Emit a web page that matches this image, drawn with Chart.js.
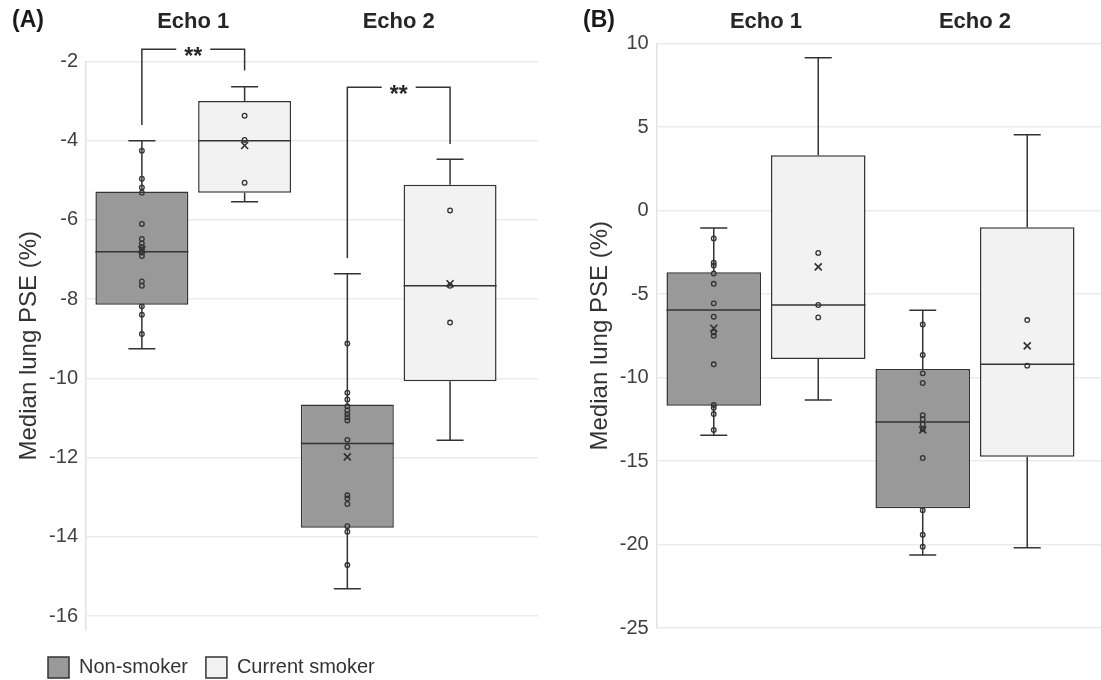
<!DOCTYPE html>
<html>
<head>
<meta charset="utf-8">
<script src="https://cdn.jsdelivr.net/npm/chart.js@4.4.1/dist/chart.umd.min.js"></script>
<style>
  html, body { margin: 0; padding: 0; background: #fff; overflow: hidden; }
  #wrap { position: relative; width: 1101px; height: 680px; }
  #panelA { position: absolute; left: 0; top: 0; }
  #panelB { position: absolute; left: 560px; top: 0; }
</style>
</head>
<body>
<div id="wrap">
  <canvas id="panelA" width="550" height="680"></canvas>
  <canvas id="panelB" width="541" height="680"></canvas>
</div>
<script>
// Median lung PSE box plots, non-smokers vs current smokers, two echo visits

const groups = ['Echo 1', 'Echo 2'];
const groupX = [0, 1];
const seriesNames = ['Non-smoker', 'Current smoker'];

// Panel A - five-number summaries per echo: [min, q1, median, q3, max]
const aNonBox = [[-9.25, -8.14, -6.80, -5.28, -4.00], [-15.31, -13.77, -11.64, -10.66, -7.36]];
const aSmkBox = [[-5.54, -5.31, -4.00, -3.00, -2.64], [-11.56, -10.07, -7.66, -5.11, -4.47]];
const aNonMean = [-6.75, -11.98];
const aSmkMean = [-4.12, -7.61];
const aNonPts = [
  [-4.25, -4.96, -5.18, -5.31, -6.10, -6.48, -6.59, -6.69, -6.75, -6.82, -6.91, -7.55, -7.66, -8.18, -8.39, -8.88],
  [-9.12, -10.36, -10.53, -10.70, -10.81, -10.90, -10.98, -11.06, -11.55, -11.73, -12.95, -13.03, -13.17, -13.73, -13.87, -14.71]
];
const aSmkPts = [[-3.37, -3.98, -5.06], [-5.76, -7.66, -8.59]];
const aTicks = [-16, -14, -12, -10, -8, -6, -4, -2];
// significance brackets per echo: [left end, top, right end]
const aBrackets = [[-3.60, -1.69, -2.23], [-6.96, -2.65, -4.08]];
const aSignif = ['**', '**'];

// Panel B
const bNonBox = [[-13.46, -11.69, -5.96, -3.70, -1.05], [-20.63, -17.83, -12.66, -9.49, -5.98]];
const bSmkBox = [[-11.35, -8.89, -5.66, 3.31, 9.15], [-20.19, -14.74, -9.21, -1.00, 4.54]];
const bNonMean = [-7.05, -13.14];
const bSmkMean = [-3.37, -8.11];
const bNonPts = [
  [-1.67, -3.13, -3.29, -3.77, -4.39, -5.56, -6.36, -7.30, -7.50, -9.21, -11.65, -11.81, -12.19, -13.14],
  [-6.82, -8.65, -9.75, -10.33, -12.26, -12.50, -12.80, -13.10, -14.82, -17.95, -19.41, -20.13]
];
const bSmkPts = [[-2.54, -5.66, -6.40], [-6.56, -9.29]];
const bTicks = [-25, -20, -15, -10, -5, 0, 5, 10];

const FONT = "'Liberation Sans', Arial, Helvetica, sans-serif";
const INK = '#333333';
Chart.defaults.font.family = FONT;
Chart.defaults.color = '#404040';

// whiskers, medians, points, means and brackets on top of the floating bars
function boxPlot(stats, brackets, signif) {
  return {
    id: 'boxPlot',
    afterDatasetsDraw(chart) {
      const ctx = chart.ctx;
      const y = chart.scales.y;
      ctx.save();
      ctx.strokeStyle = INK;
      stats.forEach((s, i) => {
        chart.getDatasetMeta(i).data.forEach((bar, j) => {
          const [lo, q1, med, q3, hi] = s.box[j];
          const cx = bar.x, half = bar.width / 2, cap = 13.5;
          const pLo = y.getPixelForValue(lo), pHi = y.getPixelForValue(hi);
          ctx.lineWidth = 1.5;
          ctx.beginPath();
          ctx.moveTo(cx, y.getPixelForValue(q3)); ctx.lineTo(cx, pHi);
          ctx.moveTo(cx - cap, pHi); ctx.lineTo(cx + cap, pHi);
          ctx.moveTo(cx, y.getPixelForValue(q1)); ctx.lineTo(cx, pLo);
          ctx.moveTo(cx - cap, pLo); ctx.lineTo(cx + cap, pLo);
          ctx.moveTo(cx - half, y.getPixelForValue(med)); ctx.lineTo(cx + half, y.getPixelForValue(med));
          ctx.stroke();

          ctx.lineWidth = 1.3;
          s.pts[j].forEach(v => {
            ctx.beginPath();
            ctx.arc(cx, y.getPixelForValue(v), 2.3, 0, Math.PI * 2);
            ctx.stroke();
          });

          const my = y.getPixelForValue(s.mean[j]);
          ctx.lineWidth = 1.7;
          ctx.beginPath();
          ctx.moveTo(cx - 3.5, my - 3.5); ctx.lineTo(cx + 3.5, my + 3.5);
          ctx.moveTo(cx + 3.5, my - 3.5); ctx.lineTo(cx - 3.5, my + 3.5);
          ctx.stroke();
        });
      });

      if (brackets) {
        const a = chart.getDatasetMeta(0).data, b = chart.getDatasetMeta(1).data;
        ctx.lineWidth = 1.5;
        ctx.fillStyle = '#262626';
        ctx.font = 'bold 23px ' + FONT;
        ctx.textAlign = 'center';
        ctx.textBaseline = 'alphabetic';
        brackets.forEach(([l, t, r], j) => {
          const x1 = a[j].x, x2 = b[j].x, ty = y.getPixelForValue(t);
          const mid = (x1 + x2) / 2, gap = 17;
          ctx.beginPath();
          ctx.moveTo(x1, y.getPixelForValue(l)); ctx.lineTo(x1, ty); ctx.lineTo(mid - gap, ty);
          ctx.moveTo(mid + gap, ty); ctx.lineTo(x2, ty); ctx.lineTo(x2, y.getPixelForValue(r));
          ctx.stroke();
          ctx.fillText(signif[j], mid, ty + 1.5 + 0.57 * 23);
        });
      }
      ctx.restore();
    }
  };
}

// panel letter in the top-left corner
function panelLetter(text, x) {
  return {
    id: 'panelLetter',
    afterDraw(chart) {
      const ctx = chart.ctx;
      ctx.save();
      ctx.fillStyle = '#1a1a1a';
      ctx.font = 'bold 23px ' + FONT;
      ctx.textAlign = 'left';
      ctx.textBaseline = 'middle';
      ctx.fillText(text, x, 21);
      ctx.restore();
    }
  };
}

// nudge the built-in legend to sit under panel A's left edge
function legendShift(dx, dy) {
  return {
    id: 'legendShift',
    afterLayout(chart) {
      const lg = chart.legend;
      if (!lg || !lg.options.display) return;
      lg.left += dx; lg.right += dx; lg.top += dy; lg.bottom += dy;
    }
  };
}

function makePanel(id, p) {
  const stats = [
    { box: p.nonBox, mean: p.nonMean, pts: p.nonPts },
    { box: p.smkBox, mean: p.smkMean, pts: p.smkPts }
  ];
  const fills = ['#999999', '#f2f2f2'];
  const boxes = [p.nonBox, p.smkBox];
  return new Chart(document.getElementById(id), {
    type: 'bar',
    data: {
      datasets: boxes.map((bx, i) => ({
        label: seriesNames[i],
        data: groupX.map((x, j) => ({ x, y: [bx[j][1], bx[j][3]] })),
        backgroundColor: fills[i],
        borderColor: INK,
        borderWidth: 1.5,
        borderSkipped: false,
        barPercentage: 0.905,
        categoryPercentage: 1.0
      }))
    },
    options: {
      responsive: false,
      animation: false,
      layout: { padding: p.padding },
      plugins: {
        title: { display: false },
        legend: {
          display: p.legend,
          position: 'bottom',
          align: 'start',
          labels: {
            boxWidth: 21,
            boxHeight: 21,
            padding: 18,
            color: INK,
            font: { size: 20 }
          }
        },
        tooltip: { enabled: false }
      },
      scales: {
        x: {
          type: 'linear',
          position: 'top',
          min: p.xMin,
          max: p.xMax,
          offset: false,
          grid: { display: false, drawTicks: false },
          border: { display: false },
          afterBuildTicks: (scale) => { scale.ticks = groupX.map(v => ({ value: v })); },
          afterFit: (scale) => { scale.height = p.xHeight; },
          ticks: {
            autoSkip: false,
            maxRotation: 0,
            padding: p.xPad,
            color: '#262626',
            font: { size: 22, weight: 'bold' },
            callback: (v) => groups[v]
          }
        },
        y: {
          min: p.yMin,
          max: p.yMax,
          afterBuildTicks: (scale) => { scale.ticks = p.ticks.map(v => ({ value: v })); },
          afterFit: (scale) => { scale.width = p.yWidth; },
          grid: { color: '#ebebeb', lineWidth: 1.5, drawTicks: false },
          border: { display: true, color: '#e2e2e2', width: 1.5 },
          ticks: { padding: 8, color: '#404040', font: { size: 20 } },
          title: {
            display: true,
            text: 'Median lung PSE (%)',
            color: INK,
            font: { size: 24 },
            padding: { top: 2.6, bottom: 0 }
          }
        }
      }
    },
    plugins: [boxPlot(stats, p.brackets, p.signif), panelLetter(p.letter, p.padding.left), legendShift(18, 9)]
  });
}

makePanel('panelA', {
  letter: '(A)',
  nonBox: aNonBox, smkBox: aSmkBox, nonMean: aNonMean, smkMean: aSmkMean,
  nonPts: aNonPts, smkPts: aSmkPts, ticks: aTicks,
  brackets: aBrackets, signif: aSignif,
  yMin: -16.35, yMax: -2, xMin: -0.522, xMax: 1.678,
  padding: { left: 12, right: 12, top: 0, bottom: 1 },
  yWidth: 74, xHeight: 61.5, xPad: 26.8, legend: true
});

makePanel('panelB', {
  letter: '(B)',
  nonBox: bNonBox, smkBox: bSmkBox, nonMean: bNonMean, smkMean: bSmkMean,
  nonPts: bNonPts, smkPts: bSmkPts, ticks: bTicks,
  brackets: null, signif: null,
  yMin: -25, yMax: 10, xMin: -0.523, xMax: 1.603,
  padding: { left: 23, right: 0, top: 0, bottom: 52 },
  yWidth: 73.7, xHeight: 43.5, xPad: 8.8, legend: false
});
</script>
</body>
</html>
